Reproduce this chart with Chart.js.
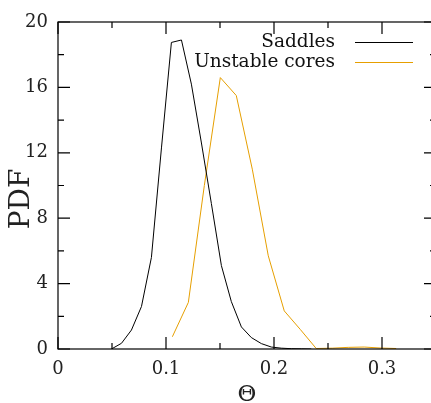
<!DOCTYPE html>
<html>
<head>
<meta charset="utf-8">
<script src="https://cdn.jsdelivr.net/npm/chart.js@4"></script>
<style>
  html, body { margin: 0; padding: 0; background: #fff; overflow: hidden; }
  #wrap { width: 440px; height: 403px; }
</style>
</head>
<body>
<div id="wrap"><canvas id="chart" width="440" height="403"></canvas></div>
<script>
// values
var saddleTheta = [0.0495, 0.0588, 0.068, 0.0773, 0.0865, 0.0958, 0.105, 0.1143, 0.1235, 0.1328,
                   0.142, 0.1513, 0.1605, 0.1698, 0.179, 0.1883, 0.1975, 0.2068, 0.216, 0.2253, 0.2345];
var saddlePdf   = [0.0, 0.35, 1.16, 2.6, 5.6, 12.3, 18.75, 18.9, 16.2, 12.6,
                   8.9, 5.1, 2.9, 1.35, 0.7, 0.33, 0.12, 0.05, 0.02, 0.01, 0.0];
var coreTheta = [0.1059, 0.1207, 0.1355, 0.1503, 0.1651, 0.1799, 0.1947, 0.2095, 0.2243, 0.2391,
                 0.2539, 0.2687, 0.2835, 0.2983, 0.3131];
var corePdf   = [0.75, 2.85, 10.0, 16.6, 15.5, 11.0, 5.7, 2.33, 1.2, 0.03,
                 0.05, 0.1, 0.12, 0.06, 0.03];
var xTickVals = [0, 0.1, 0.2, 0.3];
var yTickVals = [0, 4, 8, 12, 16, 20];
var xMinorStep = 0.05;
var yMinorStep = 2;
var xTitle = 'Θ';
var yTitle = 'PDF';

var SERIF = '"DejaVu Serif", serif';

function pts(xs, ys) {
    return xs.map(function (v, i) { return { x: v, y: ys[i] }; });
}

// frame with inward ticks on all four sides
var frameTicks = {
    id: 'frameTicks',
    afterDatasetsDraw: function (chart) {
        var ctx = chart.ctx, a = chart.chartArea;
        var x = chart.scales.x, y = chart.scales.y;
        ctx.save();
        ctx.strokeStyle = '#000';
        ctx.lineWidth = 1.2;
        ctx.strokeRect(a.left, a.top, a.right - a.left, a.bottom - a.top);
        ctx.beginPath();
        for (var v = 0; v <= x.max + 1e-9; v += xMinorStep) {
            var px = x.getPixelForValue(v);
            var len = Math.abs(v / 0.1 - Math.round(v / 0.1)) < 1e-6 ? 12 : 6;
            ctx.moveTo(px, a.bottom); ctx.lineTo(px, a.bottom - len);
            ctx.moveTo(px, a.top); ctx.lineTo(px, a.top + len);
        }
        for (var w = 0; w <= y.max + 1e-9; w += yMinorStep) {
            var py = y.getPixelForValue(w);
            var l2 = w % 4 === 0 ? 12 : 6;
            ctx.moveTo(a.left, py); ctx.lineTo(a.left + l2, py);
            ctx.moveTo(a.right, py); ctx.lineTo(a.right - l2, py);
        }
        ctx.stroke();
        ctx.restore();
    }
};

// axis titles, placed like the gnuplot output
var axisTitles = {
    id: 'axisTitles',
    afterDraw: function (chart) {
        var ctx = chart.ctx, a = chart.chartArea;
        ctx.save();
        ctx.fillStyle = '#222';
        ctx.textAlign = 'center';
        ctx.textBaseline = 'middle';
        ctx.font = '23px ' + SERIF;
        ctx.fillText(xTitle, (a.left + a.right) / 2, 395);
        ctx.translate(22, 199);
        ctx.rotate(-Math.PI / 2);
        ctx.font = '28px ' + SERIF;
        ctx.fillText(yTitle, 0, 0);
        ctx.restore();
    }
};

// legend: text right aligned, line sample on the right
var sideLegend = {
    id: 'sideLegend',
    afterDraw: function (chart) {
        var ctx = chart.ctx;
        ctx.save();
        ctx.font = '18.5px ' + SERIF;
        ctx.textAlign = 'right';
        ctx.textBaseline = 'middle';
        chart.data.datasets.forEach(function (ds, i) {
            var cy = 42 + i * 20;
            ctx.fillStyle = '#111';
            ctx.fillText(ds.label, 335, cy);
            ctx.strokeStyle = ds.borderColor;
            ctx.lineWidth = 1;
            ctx.beginPath();
            ctx.moveTo(355, cy + 0.5); ctx.lineTo(413, cy + 0.5);
            ctx.stroke();
        });
        ctx.restore();
    }
};

var ctx = document.getElementById('chart').getContext('2d');
var chart = new Chart(ctx, {
    type: 'line',
    data: {
        datasets: [{
            label: 'Saddles',
            data: pts(saddleTheta, saddlePdf),
            borderColor: '#000000',
            borderWidth: 1,
            pointRadius: 0,
            tension: 0
        }, {
            label: 'Unstable cores',
            data: pts(coreTheta, corePdf),
            borderColor: '#e69f00',
            borderWidth: 1,
            pointRadius: 0,
            tension: 0
        }]
    },
    options: {
        responsive: false,
        animation: false,
        layout: { padding: { top: 22, right: 4, left: 0, bottom: 0 } },
        plugins: { legend: { display: false }, tooltip: { enabled: false } },
        scales: {
            x: {
                type: 'linear',
                min: 0,
                max: 0.35,
                afterBuildTicks: function (s) { s.ticks = xTickVals.map(function (v) { return { value: v }; }); },
                afterFit: function (s) { s.height = 54; },
                grid: { display: false, drawTicks: false },
                border: { display: false },
                ticks: {
                    padding: 10,
                    color: '#222',
                    font: { family: SERIF, size: 18 },
                    maxRotation: 0,
                    callback: function (v) { return v === 0 ? '0' : v.toFixed(1); }
                }
            },
            y: {
                min: 0,
                max: 20,
                afterBuildTicks: function (s) { s.ticks = yTickVals.map(function (v) { return { value: v }; }); },
                afterFit: function (s) { s.width = 58; },
                grid: { display: false, drawTicks: false },
                border: { display: false },
                ticks: {
                    padding: 10,
                    color: '#222',
                    font: { family: SERIF, size: 18 }
                }
            }
        }
    },
    plugins: [frameTicks, axisTitles, sideLegend]
});
</script>
</body>
</html>
